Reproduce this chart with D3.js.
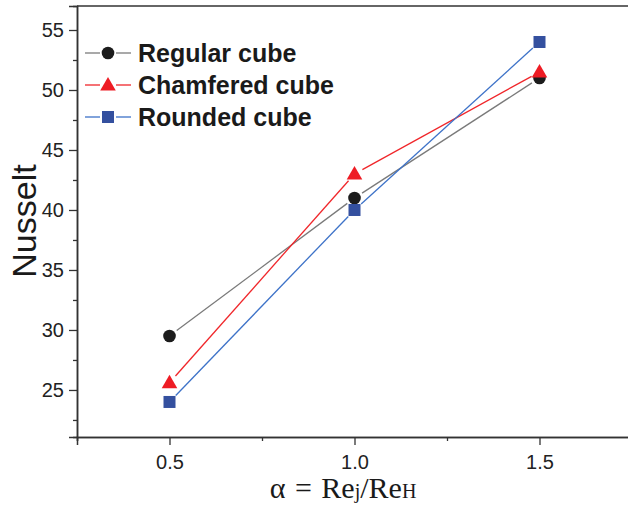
<!DOCTYPE html>
<html>
<head>
<meta charset="utf-8">
<script src="https://cdn.jsdelivr.net/npm/d3@7"></script>
<style>
  html, body { margin: 0; padding: 0; background: #fff; }
  svg { display: block; }
</style>
</head>
<body>
<svg id="chart" width="628" height="510"></svg>
<script>
// Jet-to-crossflow Reynolds ratio and mean Nusselt number per cube shape
const alphaValues = [0.5, 1.0, 1.5];
const regularCube = [29.5, 41, 51];
const chamferedCube = [25.6, 43, 51.5];
const roundedCube = [24, 40, 54];

const seriesNames = ["Regular cube", "Chamfered cube", "Rounded cube"];
const xTickValues = [0.5, 1.0, 1.5];
const yTickValues = [25, 30, 35, 40, 45, 50, 55];

const series = [
  { name: seriesNames[0], values: regularCube, line: "#7a7a7a", fill: "#1c1c1c", shape: "circle" },
  { name: seriesNames[1], values: chamferedCube, line: "#f0262a", fill: "#ee1c24", shape: "triangle" },
  { name: seriesNames[2], values: roundedCube, line: "#3d72c8", fill: "#34509f", shape: "square" }
];

const svg = d3.select("#chart");
const margin = { left: 77, top: 6, right: -4, bottom: 73 };
const W = 628, H = 510;

const x = d3.scaleLinear().domain([0.25, 1.75]).range([margin.left, W - margin.right]);
const y = d3.scaleLinear().domain([21.08, 57]).range([H - margin.bottom, margin.top]);

const axisColor = "#333";

// frame: top border line
svg.append("line")
  .attr("x1", margin.left).attr("x2", W)
  .attr("y1", margin.top).attr("y2", margin.top)
  .attr("stroke", axisColor).attr("stroke-width", 1.5);

// y axis
const yAxis = d3.axisLeft(y).tickValues(yTickValues).tickFormat(d3.format("d")).tickSize(8).tickPadding(5);
const yMinor = d3.axisLeft(y).tickValues(d3.range(22.5, 57, 5)).tickFormat("").tickSize(4);
const gy = svg.append("g").attr("transform", `translate(${margin.left},0)`).call(yAxis);
const gyMinor = svg.append("g").attr("transform", `translate(${margin.left},0)`).call(yMinor);

// x axis
const xAxis = d3.axisBottom(x).tickValues(xTickValues).tickFormat(d3.format(".1f")).tickSize(8).tickPadding(10);
const xMinor = d3.axisBottom(x).tickValues([0.25, 0.75, 1.25]).tickFormat("").tickSize(4);
const gx = svg.append("g").attr("transform", `translate(0,${H - margin.bottom})`).call(xAxis);
const gxMinor = svg.append("g").attr("transform", `translate(0,${H - margin.bottom})`).call(xMinor);

[gy, gyMinor, gx, gxMinor].forEach(g => {
  g.select(".domain").attr("stroke", axisColor).attr("stroke-width", 1.5);
  g.selectAll(".tick line").attr("stroke", axisColor).attr("stroke-width", 1.3);
  g.selectAll(".tick text")
    .attr("fill", "#222")
    .style("font-family", "'Liberation Sans', Arial, sans-serif")
    .style("font-size", "20px");
});
gx.selectAll(".tick text").attr("dy", "0.71em");

// axis titles
svg.append("text")
  .attr("transform", `translate(36,221) rotate(-90)`)
  .attr("text-anchor", "middle")
  .style("font-family", "'Liberation Sans', Arial, sans-serif")
  .style("font-size", "34px")
  .attr("fill", "#1a1a1a")
  .text("Nusselt");

const xt = svg.append("text")
  .attr("x", 343).attr("y", 498)
  .attr("text-anchor", "middle")
  .style("font-family", "'Liberation Serif', 'Times New Roman', serif")
  .style("font-size", "30px")
  .style("word-spacing", "2px")
  .attr("fill", "#1a1a1a");
xt.append("tspan").text("\u03b1 = Re");
xt.append("tspan").style("font-size", "20px").text("j");
xt.append("tspan").text("/Re");
xt.append("tspan").style("font-size", "20px").text("H");

// marker drawing
function drawMarker(g, shape, cx, cy, fill) {
  if (shape === "circle") {
    g.append("circle").attr("cx", cx).attr("cy", cy).attr("r", 6.3).attr("fill", fill);
  } else if (shape === "square") {
    g.append("rect").attr("x", cx - 6).attr("y", cy - 6).attr("width", 12).attr("height", 12).attr("fill", fill);
  } else {
    const s = d3.symbol().type(d3.symbolTriangle).size(105);
    g.append("path").attr("transform", `translate(${cx},${cy + 1})`).attr("d", s()).attr("fill", fill);
  }
}

const gap = 9;
const plot = svg.append("g");
series.forEach(s => {
  const pts = alphaValues.map((a, i) => [x(a), y(s.values[i])]);
  // connecting segments stop short of each marker
  for (let i = 0; i < pts.length - 1; i++) {
    const [x1, y1] = pts[i], [x2, y2] = pts[i + 1];
    const len = Math.hypot(x2 - x1, y2 - y1);
    const ux = (x2 - x1) / len, uy = (y2 - y1) / len;
    plot.append("line")
      .attr("x1", x1 + ux * gap).attr("y1", y1 + uy * gap)
      .attr("x2", x2 - ux * gap).attr("y2", y2 - uy * gap)
      .attr("stroke", s.line).attr("stroke-width", 1.3);
  }
});
series.forEach(s => {
  alphaValues.forEach((a, i) => drawMarker(plot, s.shape, x(a), y(s.values[i]), s.fill));
});

// legend
const legend = svg.append("g");
series.forEach((s, i) => {
  const ly = 53 + i * 32;
  legend.append("line").attr("x1", 85).attr("x2", 100).attr("y1", ly).attr("y2", ly)
    .attr("stroke", s.line).attr("stroke-width", 1.3);
  legend.append("line").attr("x1", 116).attr("x2", 131).attr("y1", ly).attr("y2", ly)
    .attr("stroke", s.line).attr("stroke-width", 1.3);
  drawMarker(legend, s.shape, 108, ly, s.fill);
  legend.append("text")
    .attr("x", 138).attr("y", ly).attr("dy", "0.36em")
    .style("font-family", "'Liberation Sans', Arial, sans-serif")
    .style("font-size", "25px").style("font-weight", "bold")
    .attr("fill", "#1a1a1a")
    .text(s.name);
});
</script>
</body>
</html>
